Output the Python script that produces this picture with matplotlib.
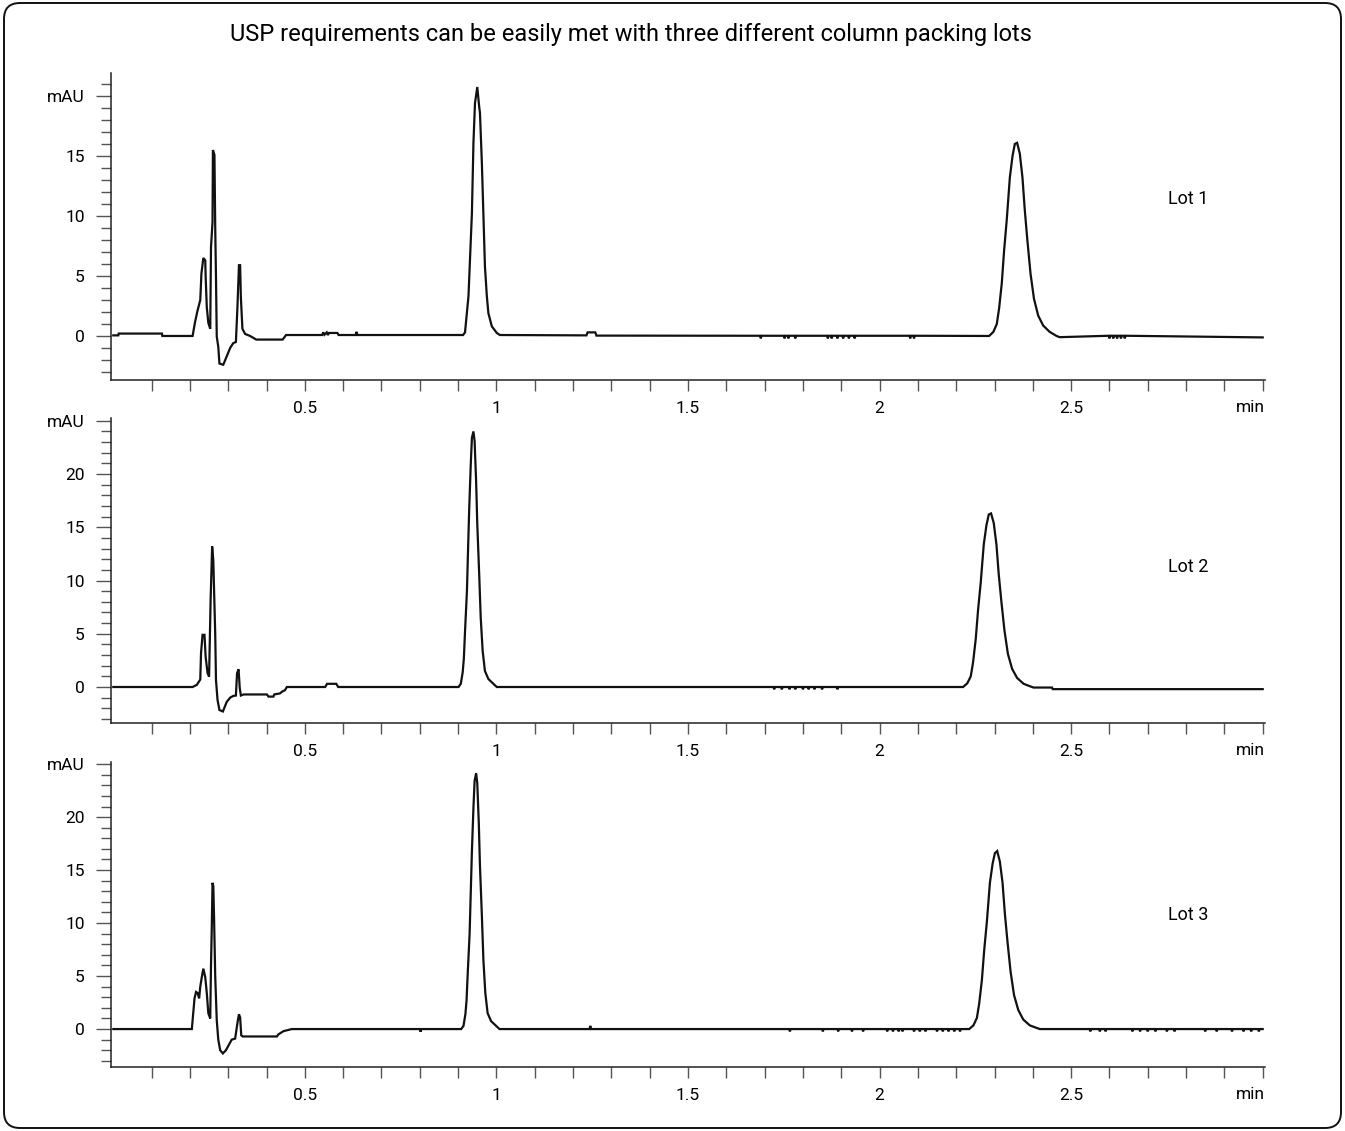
import numpy as np
import matplotlib
matplotlib.use('Agg')
import matplotlib.pyplot as plt
from matplotlib.patches import FancyBboxPatch

plt.rcParams['font.family'] = ['Roboto', 'DejaVu Sans']

# ---- data (time in min, signal in mAU) ----
lot1_t = [0.000, 0.013, 0.014, 0.127, 0.128, 0.207, 0.213, 0.219, 0.227, 0.230, 0.235,
          0.240, 0.241, 0.244, 0.248, 0.253, 0.255, 0.259, 0.260, 0.264, 0.266, 0.268,
          0.270, 0.274, 0.277, 0.287, 0.296, 0.305, 0.313, 0.320, 0.324, 0.328, 0.331,
          0.333, 0.337, 0.344, 0.357, 0.373, 0.442, 0.451, 0.545, 0.548, 0.551, 0.557,
          0.560, 0.563, 0.585, 0.588, 0.633, 0.635, 0.637,
          0.913, 0.918, 0.922, 0.927, 0.931, 0.936, 0.940, 0.944, 0.950, 0.955, 0.957,
          0.962, 0.966, 0.970, 0.975, 0.979, 0.988, 1.001, 1.009,
          1.235, 1.238, 1.258, 1.261, 2.286, 2.297, 2.306, 2.312, 2.319, 2.325, 2.332,
          2.340, 2.347, 2.353, 2.359, 2.366, 2.373, 2.379, 2.386, 2.394, 2.403, 2.414,
          2.427, 2.444, 2.462, 2.470, 3.000]
lot1_v = [0.05, 0.05, 0.2, 0.2, 0.0, 0.0, 1.1, 2.0, 3.0, 5.2, 6.5,
          6.3, 5.0, 2.4, 1.1, 0.6, 7.4, 9.5, 15.5, 15.1, 9.1, 4.9,
          -0.05, -0.9, -2.3, -2.4, -1.7, -1.0, -0.6, -0.5, 2.4, 5.9, 5.9,
          3.2, 0.6, 0.17, 0.0, -0.3, -0.3, 0.08, 0.08, 0.3, 0.1, 0.3,
          0.08, 0.25, 0.25, 0.08, 0.08, 0.35, 0.08,
          0.08, 0.3, 1.6, 3.3, 6.3, 10.25, 16.1, 19.4, 20.75, 19.1, 18.6,
          14.4, 10.25, 5.8, 3.3, 1.9, 0.8, 0.25, 0.08,
          0.05, 0.3, 0.3, 0.03, 0.0, 0.34, 1.0, 2.3, 4.4, 7.1, 9.7,
          13.2, 15.0, 16.0, 16.1, 15.2, 13.2, 10.5, 7.9, 5.2, 3.1, 1.7,
          0.87, 0.34, 0.0, -0.1, -0.12]
lot1_dips = [1.690, 1.752, 1.762, 1.780, 1.865, 1.875, 1.890, 1.905, 1.920, 1.935,
             2.080, 2.090, 2.600, 2.610, 2.620, 2.630, 2.640]

lot2_t = [0.000, 0.207, 0.218, 0.227, 0.229, 0.233, 0.238, 0.241, 0.246, 0.250, 0.254,
          0.258, 0.261, 0.266, 0.268, 0.272, 0.277, 0.286, 0.296, 0.305, 0.313, 0.320,
          0.323, 0.327, 0.330, 0.333, 0.340, 0.401, 0.405, 0.418, 0.420, 0.435, 0.440,
          0.448, 0.453, 0.553, 0.558, 0.582, 0.587,
          0.901, 0.907, 0.912, 0.915, 0.918, 0.923, 0.926, 0.929, 0.933, 0.936, 0.940,
          0.943, 0.947, 0.950, 0.955, 0.959, 0.964, 0.970, 0.979, 0.992, 1.001,
          2.218, 2.229, 2.238, 2.244, 2.251, 2.257, 2.264, 2.272, 2.279, 2.285, 2.291,
          2.298, 2.305, 2.311, 2.318, 2.326, 2.335, 2.346, 2.359, 2.376, 2.394, 2.402,
          2.450, 2.452, 3.000]
lot2_v = [0.0, 0.0, 0.2, 0.7, 3.2, 4.9, 4.9, 2.85, 1.3, 0.97, 8.2,
          13.2, 11.9, 5.0, 0.66, -1.2, -2.16, -2.3, -1.4, -1.0, -0.84, -0.8,
          1.3, 1.66, -0.1, -0.8, -0.7, -0.7, -0.9, -0.9, -0.7, -0.6, -0.45,
          -0.3, 0.0, 0.0, 0.3, 0.3, 0.0,
          0.0, 0.3, 1.4, 2.7, 5.2, 9.0, 13.0, 16.8, 20.9, 23.4, 24.0,
          23.1, 19.3, 15.3, 10.6, 6.5, 3.4, 1.5, 0.75, 0.3, 0.0,
          0.0, 0.35, 1.0, 2.3, 4.5, 7.2, 9.8, 13.4, 15.2, 16.2, 16.3,
          15.4, 13.4, 10.6, 8.0, 5.3, 3.1, 1.7, 0.85, 0.3, 0.05, -0.05,
          -0.05, -0.2, -0.2]
lot2_dips = [1.725, 1.745, 1.765, 1.780, 1.800, 1.815, 1.830, 1.850, 1.890]

lot3_t = [0.000, 0.205, 0.207, 0.212, 0.216, 0.220, 0.224, 0.227, 0.231, 0.235, 0.240,
          0.244, 0.248, 0.253, 0.255, 0.257, 0.259, 0.261, 0.263, 0.266, 0.270, 0.274,
          0.279, 0.286, 0.294, 0.300, 0.309, 0.318, 0.325, 0.328, 0.331, 0.334, 0.338,
          0.427, 0.431, 0.444, 0.466, 0.800, 0.802, 0.804,
          0.908, 0.914, 0.919, 0.922, 0.925, 0.930, 0.933, 0.936, 0.940, 0.943, 0.947,
          0.950, 0.954, 0.957, 0.962, 0.966, 0.971, 0.977, 0.986, 0.999, 1.008,
          1.243, 1.245, 1.247,
          2.234, 2.245, 2.254, 2.260, 2.267, 2.273, 2.280, 2.288, 2.295, 2.301, 2.307,
          2.314, 2.321, 2.327, 2.334, 2.342, 2.351, 2.362, 2.375, 2.392, 2.410, 2.418,
          3.000]
lot3_v = [0.0, 0.0, 0.85, 2.9, 3.5, 3.4, 2.9, 4.0, 4.9, 5.7, 4.9,
          3.4, 1.5, 1.0, 6.0, 9.5, 13.8, 13.5, 10.5, 5.0, 0.85, -1.0,
          -2.0, -2.3, -2.0, -1.6, -1.0, -0.9, 0.8, 1.4, 1.1, -0.6, -0.7,
          -0.7, -0.5, -0.2, 0.0, 0.0, -0.25, 0.0,
          0.0, 0.3, 1.4, 2.7, 5.2, 9.0, 13.0, 16.8, 20.9, 23.4, 24.15,
          23.2, 19.4, 15.4, 10.7, 6.5, 3.4, 1.5, 0.75, 0.3, 0.0,
          0.0, 0.3, 0.0,
          0.0, 0.35, 1.05, 2.4, 4.6, 7.4, 10.1, 13.8, 15.6, 16.6, 16.8,
          15.8, 13.8, 10.9, 8.2, 5.4, 3.2, 1.8, 0.9, 0.35, 0.1, 0.0,
          0.0]
lot3_dips = [1.766, 1.852, 1.892, 1.928, 1.957, 2.020, 2.035, 2.050, 2.060, 2.090,
             2.105, 2.120, 2.150, 2.165, 2.180, 2.195, 2.210, 2.550, 2.575, 2.590,
             2.660, 2.680, 2.700, 2.720, 2.750, 2.770, 2.850, 2.880, 2.920, 2.950,
             2.970, 2.990]

lots = ['Lot 1', 'Lot 2', 'Lot 3']
y_major = [[0, 5, 10, 15, 20], [0, 5, 10, 15, 20, 25], [0, 5, 10, 15, 20, 25]]
x_major = [0.5, 1, 1.5, 2, 2.5]
x_major_labels = ['0.5', '1', '1.5', '2', '2.5']


def with_dips(t, v, dips, depth=0.22):
    """put the small single-sample baseline dips into the trace"""
    t = list(t)
    v = list(v)
    for d in dips:
        base = float(np.interp(d, t, v))
        t += [d - 0.002, d, d + 0.002]
        v += [base, base - depth, base]
    order = np.argsort(t, kind='stable')
    return np.array(t)[order], np.array(v)[order]


traces = [with_dips(lot1_t, lot1_v, lot1_dips),
          with_dips(lot2_t, lot2_v, lot2_dips),
          with_dips(lot3_t, lot3_v, lot3_dips)]

W, H = 1345, 1131
fig = plt.figure(figsize=(W / 100, H / 100), dpi=100)

# panel boxes in pixels: left, top, right, bottom
boxes = [(111, 73, 1265, 380), (111, 418, 1265, 723), (111, 762, 1265, 1067)]
ylims = [(-3.67, 21.92), (-3.38, 25.26), (-3.58, 25.2)]
lot_label_y = [199, 567, 915]

axis_col = '#222222'
tick_col = '#555555'

for i in range(3):
    l, t, r, b = boxes[i]
    ax = fig.add_axes([l / W, 1 - b / H, (r - l) / W, (b - t) / H])
    tt, vv = traces[i]
    ax.plot(tt, vv, color='#111111', lw=1.6, solid_joinstyle='miter')
    ax.set_xlim(-0.006, 3.006)
    ax.set_ylim(*ylims[i])

    for s in ['top', 'right']:
        ax.spines[s].set_visible(False)
    for s in ['left', 'bottom']:
        ax.spines[s].set_color(axis_col)
        ax.spines[s].set_linewidth(1.1)

    ax.set_xticks(x_major)
    ax.set_xticklabels(x_major_labels)
    ax.set_xticks([k / 10 for k in range(1, 31) if k % 5 != 0 or k == 30], minor=True)

    ym = y_major[i]
    ax.set_yticks(ym)
    ax.set_yticklabels([str(v) for v in ym[:-1]] + ['mAU'])
    lo = int(np.ceil(ylims[i][0]))
    hi = int(np.floor(ylims[i][1]))
    ax.set_yticks([k for k in range(lo, hi + 1) if k not in ym], minor=True)

    ax.tick_params(axis='x', which='both', length=8, width=1.0, color=tick_col,
                   labelsize=12.5, pad=7)
    ax.tick_params(axis='y', which='major', length=11, width=1.0, color=tick_col,
                   labelsize=12.5, pad=8)
    ax.tick_params(axis='y', which='minor', length=7, width=1.0, color=tick_col)

    ax.annotate('min', xy=(1, 0), xycoords='axes fraction', xytext=(0, -20),
                textcoords='offset points', ha='right', va='center', fontsize=12.5)

    fig.text(1188 / W, 1 - lot_label_y[i] / H, lots[i], ha='center', va='center',
             fontsize=13)

fig.text(631 / W, 1 - 35 / H,
         'USP requirements can be easily met with three different column packing lots',
         ha='center', va='center', fontsize=17)

frame = FancyBboxPatch((0.04, 0.03), W / 100 - 0.08, H / 100 - 0.06,
                       boxstyle='round,pad=0,rounding_size=0.16',
                       transform=fig.dpi_scale_trans, fill=False,
                       edgecolor='#111111', lw=1.4)
fig.patches.append(frame)

fig.savefig('out.png', dpi=100)
